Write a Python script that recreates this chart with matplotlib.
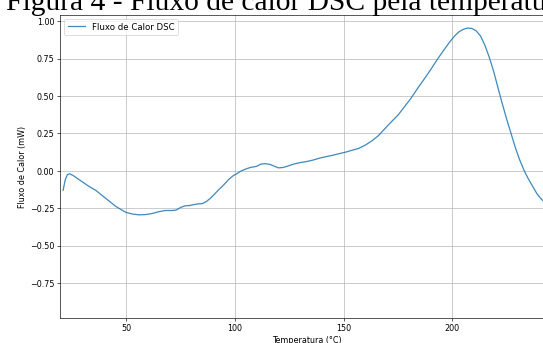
import matplotlib
matplotlib.use("Agg")
import matplotlib.pyplot as plt

# DSC heat-flow curve
temperatura = [21.0, 22.0, 23.0, 24.0, 25.5, 28, 30.5, 33, 36, 39, 42, 45, 48, 50, 53, 56, 59,
               62, 65, 68, 71, 73, 75, 77, 79, 81, 83, 85, 87, 89, 91, 93, 95, 97, 99, 101,
               103, 105, 107, 110, 112, 114, 116, 118, 120, 122, 124, 127, 130, 133, 136,
               139, 142, 145, 148, 151, 154, 157, 160, 163, 166, 169, 172, 175, 178, 181,
               184, 187, 190, 193, 196, 199, 201, 203, 205, 207, 209, 211, 213, 215, 217,
               219, 221, 223, 225, 227, 229, 231, 233, 235, 237, 239, 241, 243, 245, 247]
fluxo = [-0.13, -0.06, -0.025, -0.02, -0.03, -0.055, -0.08, -0.105, -0.13, -0.165, -0.2,
         -0.235, -0.262, -0.278, -0.289, -0.294, -0.292, -0.285, -0.273, -0.265, -0.265,
         -0.262, -0.245, -0.234, -0.232, -0.226, -0.221, -0.219, -0.204, -0.18, -0.15,
         -0.12, -0.092, -0.06, -0.035, -0.018, 0.0, 0.012, 0.022, 0.03, 0.045, 0.048,
         0.043, 0.032, 0.02, 0.022, 0.03, 0.045, 0.055, 0.062, 0.072, 0.085, 0.095, 0.104,
         0.115, 0.125, 0.138, 0.15, 0.172, 0.2, 0.235, 0.282, 0.328, 0.372, 0.428, 0.485,
         0.55, 0.612, 0.675, 0.742, 0.805, 0.865, 0.9, 0.928, 0.945, 0.954, 0.951, 0.935,
         0.9, 0.838, 0.758, 0.665, 0.555, 0.447, 0.345, 0.25, 0.155, 0.072, 0.003, -0.055,
         -0.105, -0.155, -0.19, -0.218, -0.245, -0.27]

x_ticks = [50, 100, 150, 200]
y_ticks = [-0.75, -0.50, -0.25, 0.00, 0.25, 0.50, 0.75, 1.00]

titulo = "Figura 4 - Fluxo de calor DSC pela temperatura"
rotulo_serie = "Fluxo de Calor DSC"
rotulo_x = "Temperatura (°C)"
rotulo_y = "Fluxo de Calor (mW)"

dpi = 57.6
fig = plt.figure(figsize=(543.3 / dpi, 343.3 / dpi), dpi=dpi)
ax = fig.add_axes([60 / 543, 25 / 343, 494 / 543, 303 / 343])

ax.plot(temperatura, fluxo, color="#1f77b4", linewidth=1.6, alpha=0.85, label=rotulo_serie)

ax.set_xlim(19.6, 246.9)
ax.set_ylim(-0.983, 1.043)
ax.set_xticks(x_ticks)
ax.set_yticks(y_ticks)
ax.set_yticklabels([f"{v:.2f}".replace("-", "\u2212") for v in y_ticks])
ax.grid(True, color="#b0b0b0", linewidth=1.2, alpha=0.65)
ax.set_xlabel(rotulo_x)
ax.set_ylabel(rotulo_y)
ax.legend(loc="upper left", fontsize=10.8)

fig.text(6 / 543, 1 - 9.5 / 343, titulo, family="Liberation Serif", fontsize=37,
         ha="left", va="baseline", color="black")

fig.savefig("out.png", dpi=dpi)
